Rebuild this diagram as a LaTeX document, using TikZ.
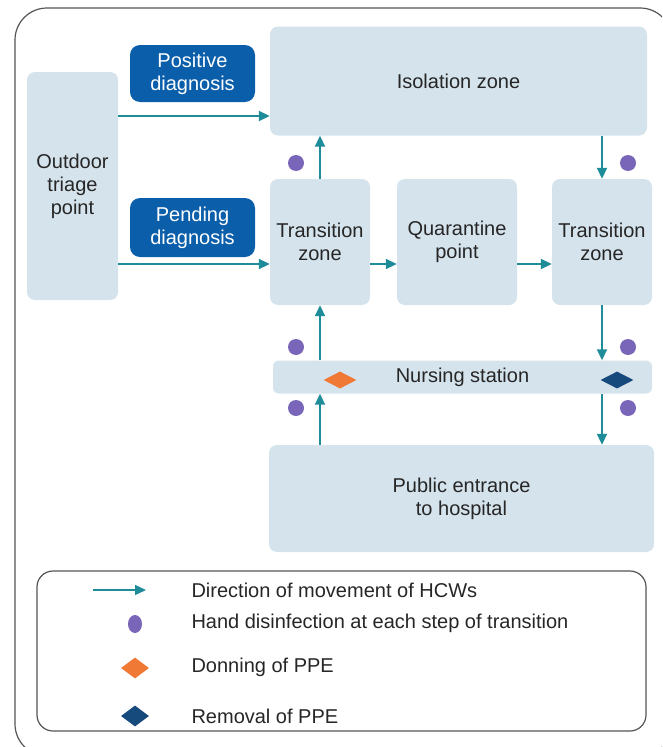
\documentclass[tikz,border=0pt]{standalone}
\usepackage{fontspec}
\setmainfont{Liberation Sans}
\usetikzlibrary{arrows.meta,shapes.geometric}
\definecolor{zonefill}{HTML}{D5E3EC}
\definecolor{diagblue}{HTML}{0B5FAA}
\definecolor{flowteal}{HTML}{1F8C99}
\definecolor{handdot}{HTML}{7A66B8}
\definecolor{donorange}{HTML}{F07A35}
\definecolor{removeblue}{HTML}{174A7C}
\definecolor{framegray}{HTML}{555555}
\tikzset{
  zone/.style={fill=zonefill, rounded corners=8pt, inner sep=0pt, align=center,
    font=\fontsize{20}{23}\selectfont, text=black!85},
  diag/.style={fill=diagblue, rounded corners=10pt, inner sep=0pt, align=center,
    font=\fontsize{20}{23}\selectfont, text=white},
  flow/.style={draw=flowteal, line width=1.8pt, -{Triangle[length=11pt,width=10pt]}},
  handdis/.style={circle, fill=handdot, minimum size=16pt, inner sep=0pt},
  don/.style={diamond, fill=donorange, minimum width=33pt, minimum height=17pt, inner sep=0pt, aspect=2},
  doff/.style={diamond, fill=removeblue, minimum width=33pt, minimum height=17pt, inner sep=0pt, aspect=2},
  legtext/.style={anchor=west, font=\fontsize{20}{23}\selectfont, text=black!85},
}
\begin{document}
\begin{tikzpicture}[x=1pt,y=-1pt]
\useasboundingbox (0,0) rectangle (662,747);
\begin{scope}
\clip (0,0) rectangle (662,747);
\draw[framegray, line width=1.2pt, rounded corners=32pt] (15,8) rectangle (672,756);
\end{scope}

% zones
\node[zone, minimum width=91pt, minimum height=228pt] (triage) at (72.5,186) {Outdoor\\triage\\point};
\node[zone, minimum width=377pt, minimum height=109pt] (iso) at (458.5,81) {Isolation zone};
\node[zone, minimum width=100pt, minimum height=126pt] (tz1) at (320,242) {Transition\\zone};
\node[zone, minimum width=120pt, minimum height=126pt] (qp) at (457,242) {Quarantine\\point};
\node[zone, minimum width=100pt, minimum height=126pt] (tz2) at (602,242) {Transition\\zone};
\node[zone, minimum width=379pt, minimum height=33pt, rounded corners=6pt] (nurse) at (462.5,377) {Nursing station};
\node[zone, minimum width=385pt, minimum height=107pt] (pub) at (461.5,498.5) {Public entrance\\to hospital};

% diagnosis labels
\node[diag, minimum width=125pt, minimum height=57pt] (pos) at (192.5,73.5) {Positive\\diagnosis};
\node[diag, minimum width=125pt, minimum height=59pt] (pend) at (192.5,227.5) {Pending\\diagnosis};

% movement of staff
\draw[flow] (triage.east |- 0,116) -- (iso.west |- 0,116);
\draw[flow] (triage.east |- 0,264) -- (tz1.west |- 0,264);
\draw[flow] (tz1.north) -- (iso.south -| tz1.north);
\draw[flow] (iso.south -| tz2.north) -- (tz2.north);
\draw[flow] (tz1.east |- 0,264) -- (qp.west |- 0,264);
\draw[flow] (qp.east |- 0,264) -- (tz2.west |- 0,264);
\draw[flow] (nurse.north -| tz1.south) -- (tz1.south);
\draw[flow] (tz2.south) -- (nurse.north -| tz2.south);
\draw[flow] (pub.north -| tz1.south) -- (nurse.south -| tz1.south);
\draw[flow] (nurse.south -| tz2.south) -- (pub.north -| tz2.south);

% hand disinfection points
\node[handdis] (h1) at (296,163) {};
\node[handdis] (h2) at (628,163) {};
\node[handdis] (h3) at (296,347) {};
\node[handdis] (h4) at (628,347) {};
\node[handdis] (h5) at (296,408) {};
\node[handdis] (h6) at (628,408) {};

% PPE points
\node[don] (d1) at (340,380) {};
\node[doff] (d2) at (617,380) {};

% legend
\draw[framegray, line width=1.2pt, rounded corners=16pt] (37,571) rectangle (646,731);
\coordinate (la) at (93,590);
\coordinate (lb) at (146,590);
\draw[flow, line width=1.5pt] (la) -- (lb);
\node[ellipse, fill=handdot, minimum width=14pt, minimum height=18pt, inner sep=0pt] (lh) at (135,624) {};
\node[diamond, fill=donorange, minimum width=28pt, minimum height=21pt, inner sep=0pt, aspect=1.4] (ld) at (135,668) {};
\node[diamond, fill=removeblue, minimum width=28pt, minimum height=21pt, inner sep=0pt, aspect=1.4] (lr) at (135,716) {};
\node[legtext] (t1) at (188,590) {Direction of movement of HCWs};
\node[legtext] (t2) at (188,623) {Hand disinfection at each step of transition};
\node[legtext] (t3) at (188,667) {Donning of PPE};
\node[legtext] (t4) at (188,716) {Removal of PPE};
\end{tikzpicture}
\end{document}
